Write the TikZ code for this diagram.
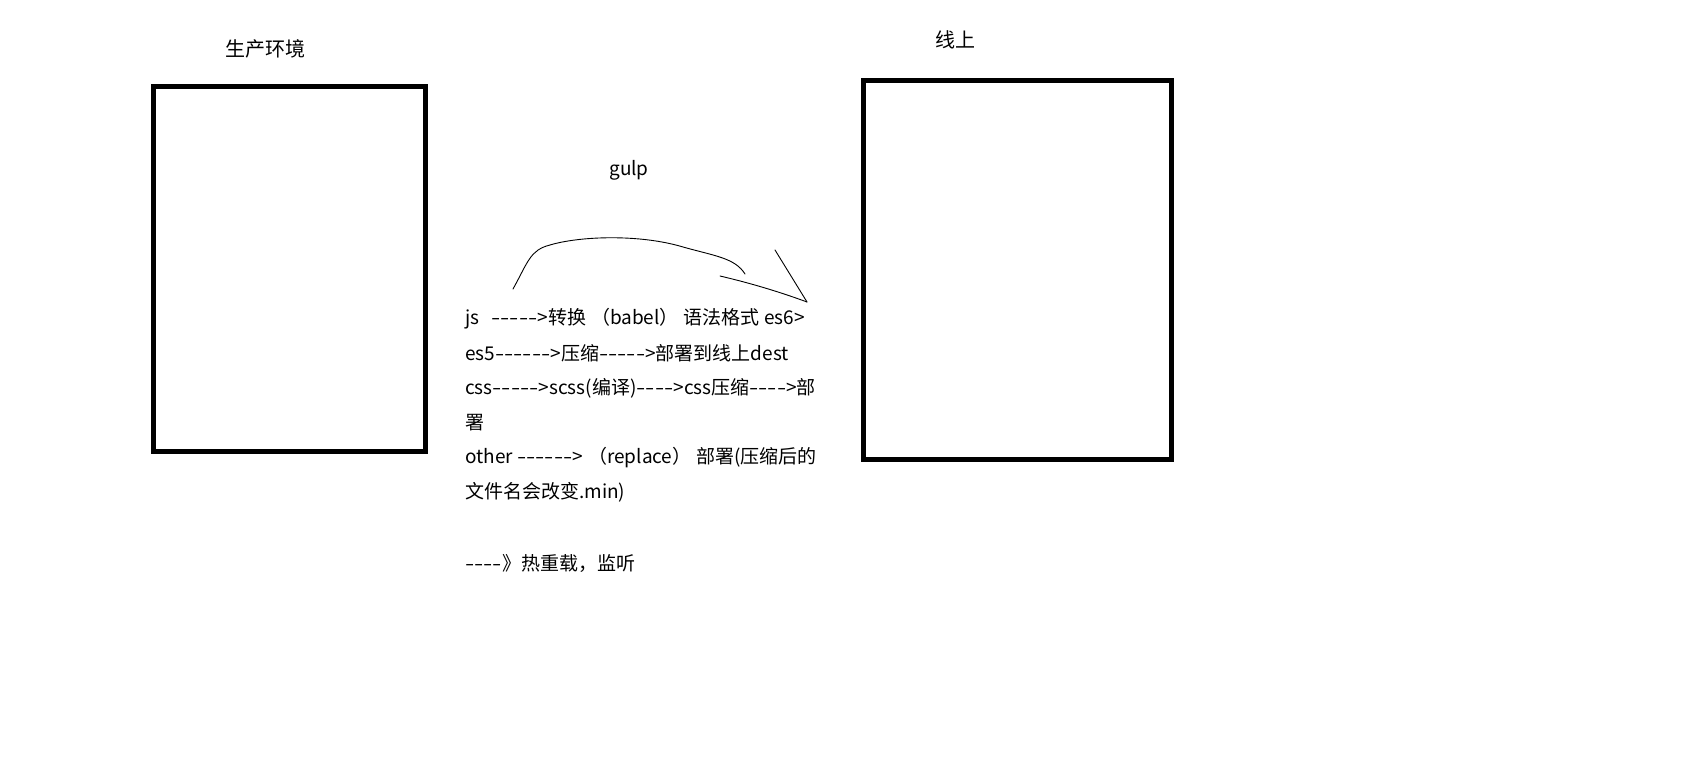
\documentclass[tikz,border=0pt]{standalone}
\usepackage{fontspec}
\setmainfont{Noto Sans CJK SC}[Ligatures=TeXOff]
\newcommand\hy{\scalebox{1.4}[1]{-}}
\newcommand\hyf{\hy\hy\hy\hy}
\newcommand\lp{\hspace{5pt}（}
\newcommand\rp{）\hspace{5pt}}
\begin{document}
\begin{tikzpicture}[x=1pt,y=-1pt,
  envbox/.style={draw=black,line width=5pt,inner sep=0pt,fill=none},
  title/.style={font=\fontsize{20}{24}\selectfont,inner sep=0pt},
  txt/.style={font=\fontsize{19}{23}\selectfont,inner sep=0pt,anchor=west},
  hand/.style={line width=0.9pt,line cap=round,line join=round}]
\useasboundingbox (0,0) rectangle (1684,783);
\node[envbox,minimum width=272pt,minimum height=365pt] (prod) at (289.5,269) {};
\node[envbox,minimum width=308pt,minimum height=379pt] (online) at (1017.5,270) {};
\node[title] (prodlabel) at (265,49) {生产环境};
\node[title] (onlinelabel) at (955,40) {线上};
\node[title,font=\fontsize{19}{23}\selectfont] (gulp) at (629,170) {gulp};
\node[txt] (l1) at (465,319) {js\hspace{12pt}\hyf\hy>转换\lp babel\rp 语法格式 es6>};
\node[txt] (l2) at (465,353) {es5\hyf\hy\hy>压缩\hyf\hy>部署到线上dest};
\node[txt] (l3) at (465,388) {css\hyf\hy>scss(编译)\hyf>css压缩\hyf>部};
\node[txt] (l4) at (465,423) {署};
\node[txt] (l5) at (465,458) {other \hyf\hy\hy>\lp replace\rp 部署(压缩后的};
\node[txt] (l6) at (465,492) {文件名会改变.min)};
\node[txt] (l7) at (465,563) {\hyf》热重载，监听};
\coordinate (cs) at (513,289);
\coordinate (ce) at (745,274);
\coordinate (tip) at (807,302);
\coordinate (h1) at (720,276);
\coordinate (h2) at (775,250);
\draw[hand] (cs) .. controls (528,262) and (530,250) .. (550,245)
  .. controls (580,236) and (640,234) .. (683,247)
  .. controls (715,256) and (735,258) .. (ce);
\draw[hand] (h1) .. controls (750,283) and (780,292) .. (tip);
\draw[hand] (h2) -- (tip);
\end{tikzpicture}
\end{document}
